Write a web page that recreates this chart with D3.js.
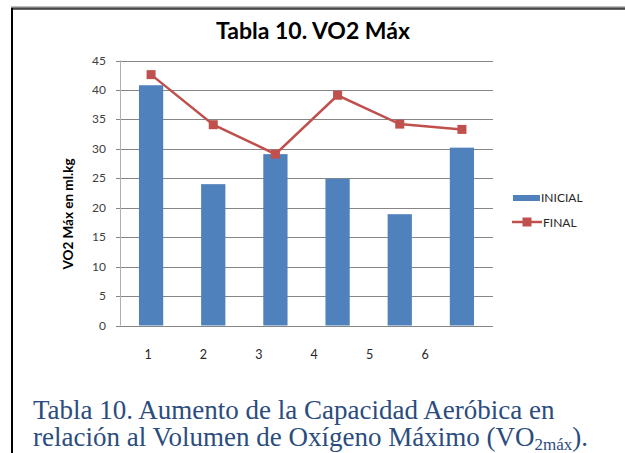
<!DOCTYPE html>
<html><head><meta charset="utf-8">
<script src="https://cdn.jsdelivr.net/npm/d3@7"></script>
<style>html,body{margin:0;padding:0;background:#fff;}svg{display:block;}</style>
</head><body>
<script>
const categories = ["1","2","3","4","5","6"];
const inicial = [40.8, 24.0, 29.1, 24.9, 18.9, 30.2];
const final_ = [42.6, 34.1, 29.1, 39.1, 34.2, 33.3];
const yTicks = [0,5,10,15,20,25,30,35,40,45];
const seriesNames = ["INICIAL","FINAL"];
const title = "Tabla 10. VO2 Máx";
const yTitle = "VO2 Máx en ml.kg";

const W = 625, H = 453;
const svg = d3.select("body").append("svg").attr("width", W).attr("height", H);
svg.append("rect").attr("width", W).attr("height", H).attr("fill", "#fff");

// frame
svg.append("line").attr("x1", 11).attr("x2", W).attr("y1", 8).attr("y2", 8).attr("stroke", "#7f7f7f").attr("stroke-width", 3);
svg.append("line").attr("x1", 11).attr("x2", W).attr("y1", 9).attr("y2", 9).attr("stroke", "#111").attr("stroke-width", 1);
svg.append("line").attr("x1", 12).attr("x2", 12).attr("y1", 8).attr("y2", H).attr("stroke", "#000").attr("stroke-width", 2);

const x = d3.scaleBand().domain(categories).range([120, 493]).paddingInner(0.61).paddingOuter(0.305);
const xLab = d3.scalePoint().domain(categories).range([148, 425]);
const y = d3.scaleLinear().domain([0, 45]).range([325.5, 60.5]);

// gridlines
svg.append("g").selectAll("line").data(yTicks).join("line")
  .attr("x1", 116).attr("x2", 493)
  .attr("y1", d => Math.round(y(d)) + 0.5).attr("y2", d => Math.round(y(d)) + 0.5)
  .attr("stroke", "#868686").attr("stroke-width", 1);
// y axis line
svg.append("line").attr("x1", 120.5).attr("x2", 120.5).attr("y1", y(45)).attr("y2", y(0))
  .attr("stroke", "#b0b0b0").attr("stroke-width", 1);

// y tick labels
svg.append("g").selectAll("text").data(yTicks).join("text")
  .attr("x", 106).attr("y", d => y(d) + 4)
  .attr("text-anchor", "end").attr("font-family", "Lato, 'Open Sans', sans-serif")
  .attr("font-size", 12).attr("fill", "#404040").text(d => d);

// bars
svg.append("g").selectAll("rect").data(inicial).join("rect")
  .attr("x", (d, i) => x(categories[i])).attr("width", x.bandwidth())
  .attr("y", d => y(d)).attr("height", d => y(0) - y(d))
  .attr("fill", "#4F81BD");

// line
const line = d3.line().x((d, i) => x(categories[i]) + x.bandwidth() / 2).y(d => y(d));
svg.append("path").datum(final_).attr("d", line).attr("fill", "none")
  .attr("stroke", "#C0504D").attr("stroke-width", 2.5);
svg.append("g").selectAll("rect").data(final_).join("rect")
  .attr("x", (d, i) => x(categories[i]) + x.bandwidth() / 2 - 4.5)
  .attr("y", d => y(d) - 4.5).attr("width", 9).attr("height", 9)
  .attr("fill", "#C0504D");

// x labels
svg.append("g").selectAll("text").data(categories).join("text")
  .attr("x", d => xLab(d)).attr("y", 359).attr("text-anchor", "middle")
  .attr("font-family", "Lato, 'Open Sans', sans-serif").attr("font-size", 12.5)
  .attr("fill", "#262626").text(d => d);

// title
svg.append("text").attr("x", 313).attr("y", 39).attr("text-anchor", "middle")
  .attr("font-family", "Lato, 'Open Sans', sans-serif").attr("font-weight", "bold")
  .attr("font-size", 23).attr("fill", "#000").text(title);

// y title
svg.append("text").attr("transform", "translate(73,214) rotate(-90)").attr("text-anchor", "middle")
  .attr("font-family", "Lato, 'Open Sans', sans-serif").attr("font-weight", "bold")
  .attr("font-size", 13.5).attr("fill", "#000").text(yTitle);

// legend
const lg = svg.append("g");
lg.append("rect").attr("x", 513).attr("y", 195).attr("width", 27).attr("height", 6).attr("fill", "#4F81BD");
lg.append("text").attr("x", 541).attr("y", 202).attr("font-family", "Lato, 'Open Sans', sans-serif")
  .attr("font-size", 12).attr("fill", "#262626").text(seriesNames[0]);
lg.append("line").attr("x1", 512).attr("x2", 542).attr("y1", 222).attr("y2", 222)
  .attr("stroke", "#C0504D").attr("stroke-width", 2.5);
lg.append("rect").attr("x", 522.5).attr("y", 217.5).attr("width", 9).attr("height", 9).attr("fill", "#C0504D");
lg.append("text").attr("x", 543).attr("y", 227).attr("font-family", "Lato, 'Open Sans', sans-serif")
  .attr("font-size", 12).attr("fill", "#262626").text(seriesNames[1]);

// caption
const cap = svg.append("g").attr("font-family", "'Liberation Serif', 'Times New Roman', serif")
  .attr("fill", "#2B4C7E");
cap.append("text").attr("x", 33).attr("y", 419).attr("font-size", 27)
  .text("Tabla 10. Aumento de la Capacidad Aeróbica en");
const t2 = cap.append("text").attr("x", 33).attr("y", 446).attr("font-size", 27);
t2.append("tspan").text("relación al Volumen de Oxígeno Máximo (VO");
t2.append("tspan").attr("font-size", 17).attr("dy", 4).text("2máx");
t2.append("tspan").attr("dy", -4).text(").");
</script>
</body></html>
